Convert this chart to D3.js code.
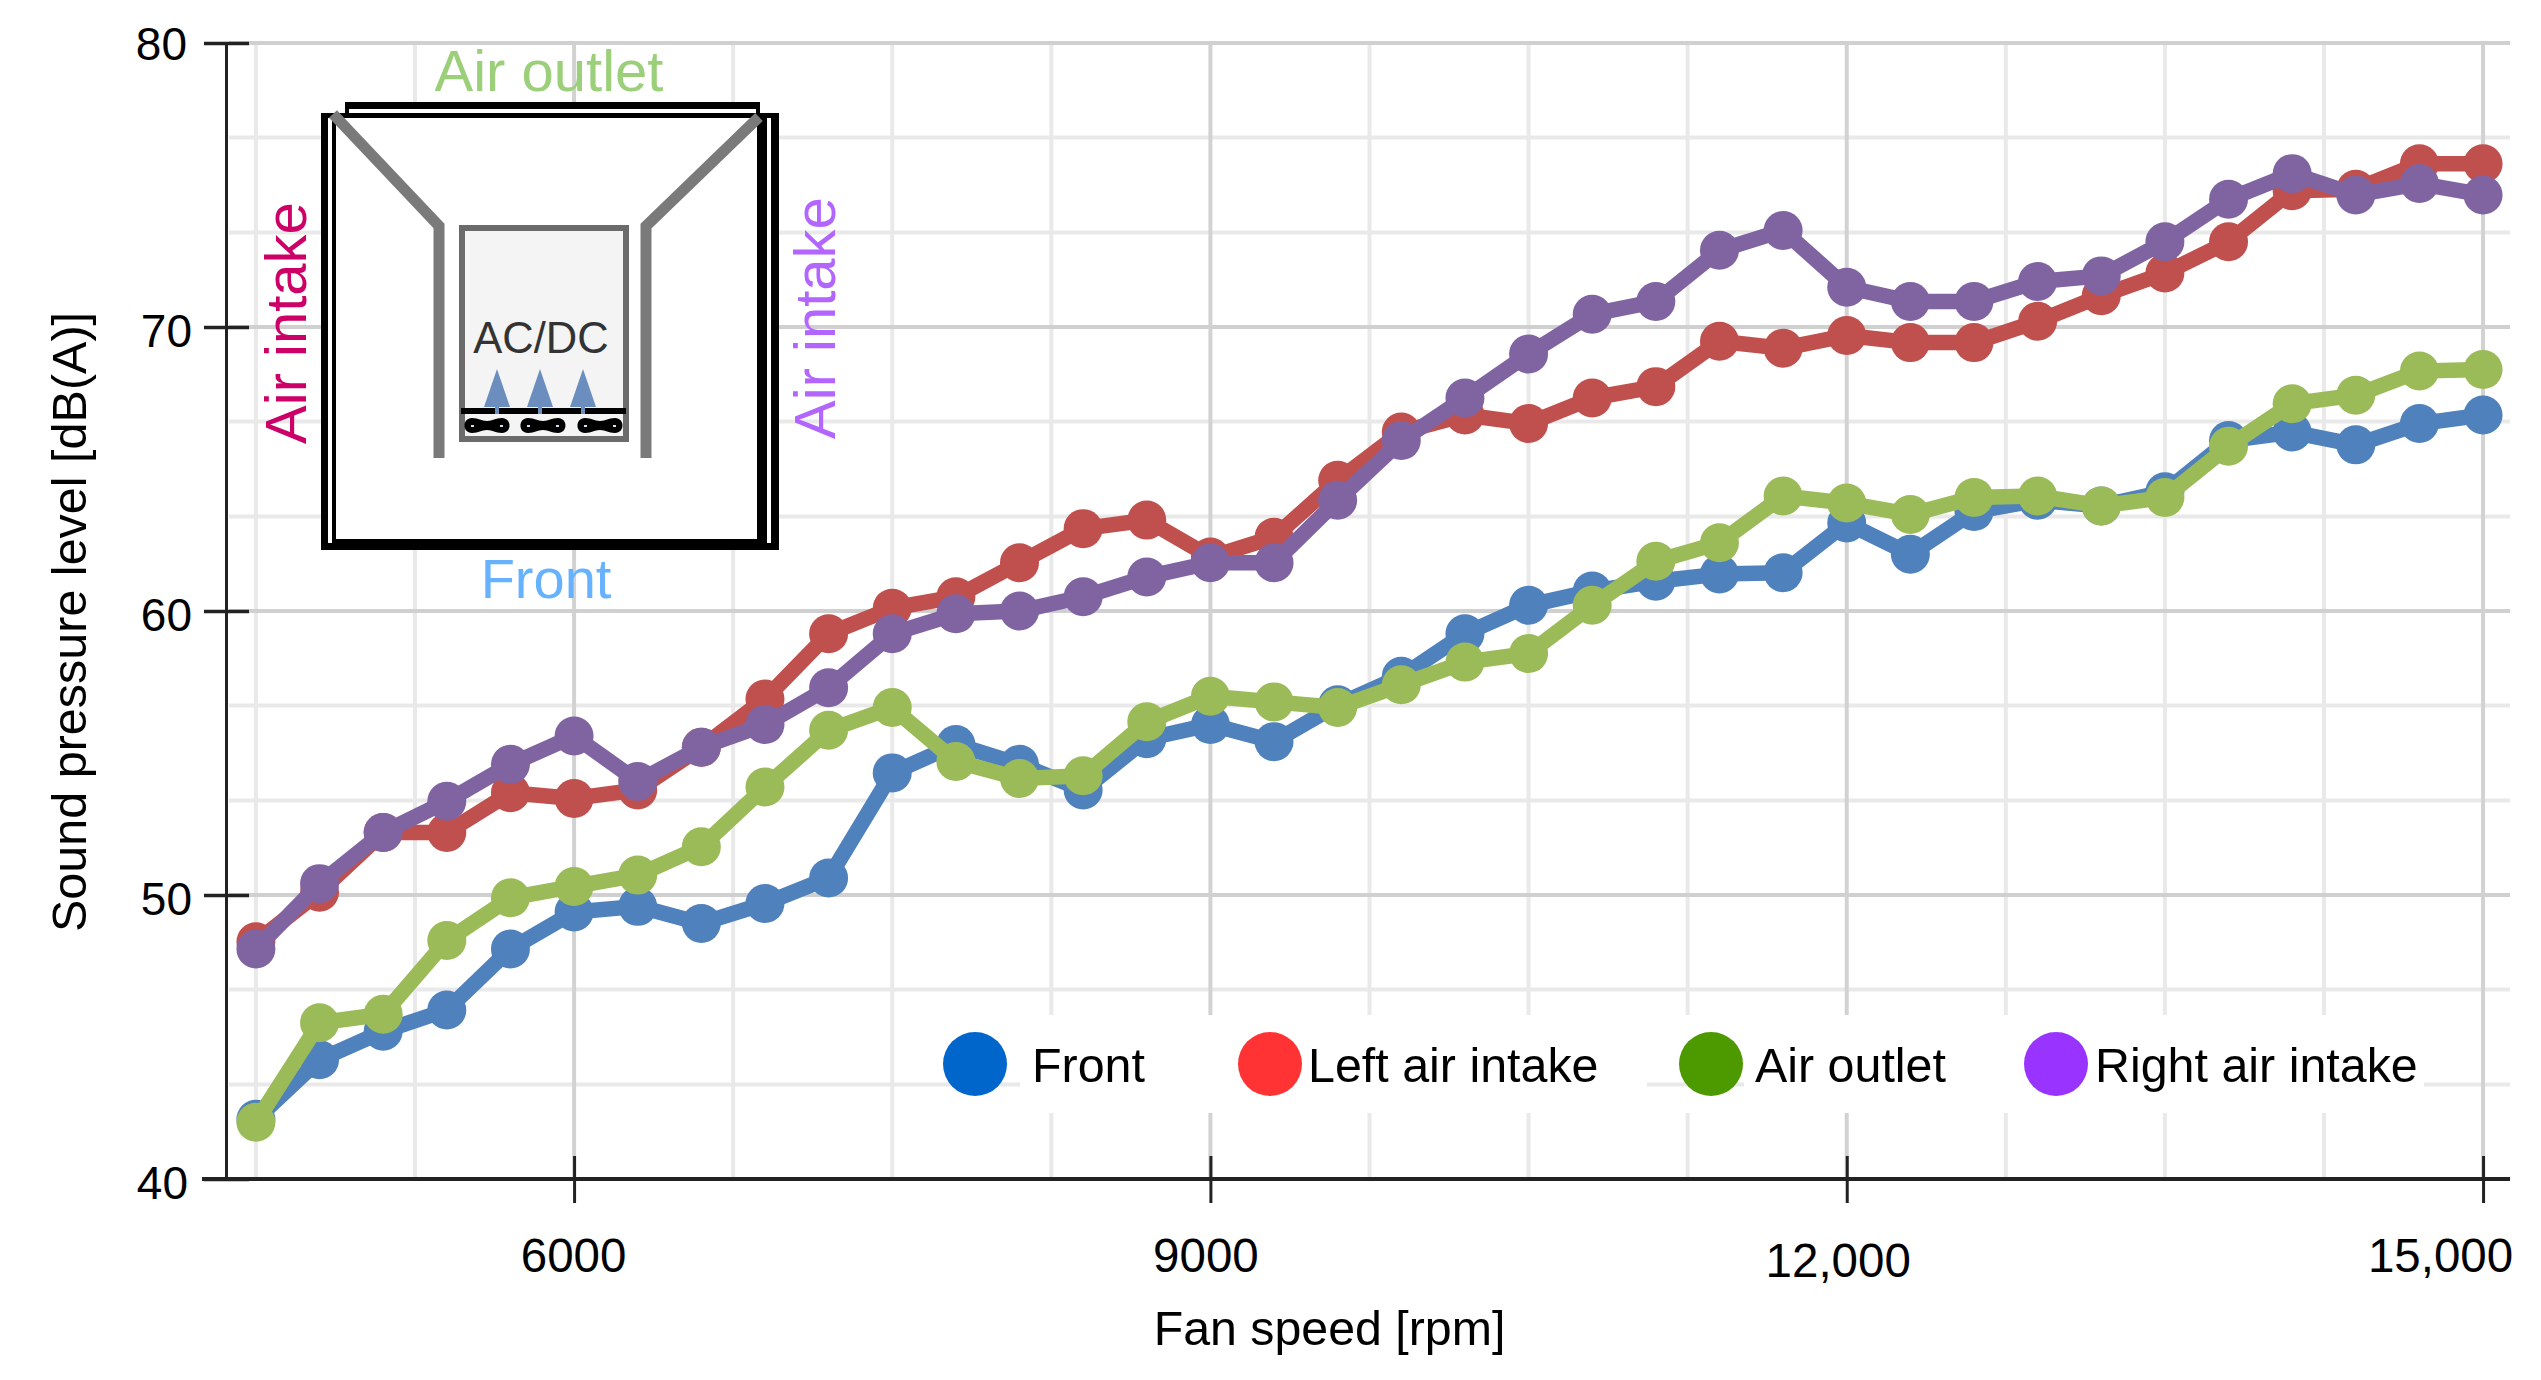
<!DOCTYPE html>
<html>
<head>
<meta charset="utf-8">
<script src="https://cdn.jsdelivr.net/npm/d3@7"></script>
<style>
  html, body { margin: 0; padding: 0; background: #fff; }
  text { font-family: "Liberation Sans", Arial, sans-serif; }
</style>
</head>
<body>
<div id="chart"></div>
<script>
var rpm = [4500, 4800, 5100, 5400, 5700, 6000, 6300, 6600, 6900, 7200, 7500, 7800,
           8100, 8400, 8700, 9000, 9300, 9600, 9900, 10200, 10500, 10800, 11100, 11400,
           11700, 12000, 12300, 12600, 12900, 13200, 13500, 13800, 14100, 14400, 14700, 15000];

var front = [42.1, 44.2, 45.2, 45.95, 48.1, 49.4, 49.6, 49.0, 49.7, 50.6, 54.3, 55.3,
             54.6, 53.7, 55.5, 56.0, 55.4, 56.7, 57.7, 59.2, 60.2, 60.7, 61.05, 61.3,
             61.35, 63.1, 62.0, 63.5, 63.9, 63.7, 64.2, 66.0, 66.3, 65.85, 66.6, 66.9];
var leftIntake = [48.35, 50.1, 52.2, 52.2, 53.6, 53.4, 53.7, 55.2, 56.9, 59.2, 60.1, 60.5,
                  61.7, 62.9, 63.2, 61.9, 62.6, 64.6, 66.3, 66.9, 66.6, 67.5, 67.9, 69.5,
                  69.25, 69.7, 69.45, 69.45, 70.2, 71.1, 71.9, 73.0, 74.8, 74.85, 75.75, 75.75];
var airOutlet = [42.0, 45.5, 45.8, 48.4, 49.9, 50.3, 50.7, 51.7, 53.8, 55.8, 56.6, 54.7,
                 54.1, 54.2, 56.1, 57.0, 56.8, 56.6, 57.4, 58.2, 58.5, 60.2, 61.75, 62.4,
                 64.05, 63.8, 63.4, 64.0, 64.05, 63.7, 64.0, 65.8, 67.3, 67.6, 68.45, 68.5];
var rightIntake = [48.1, 50.4, 52.2, 53.3, 54.6, 55.6, 54.0, 55.2, 56.0, 57.3, 59.2, 59.9,
                   60.0, 60.5, 61.2, 61.7, 61.7, 63.9, 66.0, 67.5, 69.05, 70.45, 70.9, 72.7,
                   73.4, 71.4, 70.9, 70.9, 71.6, 71.8, 73.0, 74.5, 75.4, 74.65, 75.05, 74.65];

var seriesNames = ["Front", "Left air intake", "Air outlet", "Right air intake"];
var seriesValues = [front, leftIntake, airOutlet, rightIntake];
var lineColors = ["#4f81bd", "#c0504d", "#9bbb59", "#8064a2"];
var legendColors = ["#0066cc", "#ff3333", "#4d9900", "#9933ff"];

var yTicks = [40, 50, 60, 70, 80];
var yMinor = [43.33, 46.67, 53.33, 56.67, 63.33, 66.67, 73.33, 76.67];
var xTicks = [6000, 9000, 12000, 15000];
var xTickLabels = ["6000", "9000", "12,000", "15,000"];
var xMinor = [4500, 5250, 6750, 7500, 8250, 9750, 10500, 11250, 12750, 13500, 14250];

var svg = d3.select("#chart").append("svg")
  .attr("width", 2541)
  .attr("height", 1380)
  .style("display", "block");

var x = d3.scaleLinear().domain([4359, 15127]).range([226, 2510]);
var y = d3.scaleLinear().domain([40, 80]).range([1179, 43]);

// grid
var grid = svg.append("g");
grid.selectAll(".minor-v").data(xMinor).enter().append("line")
  .attr("x1", d => x(d)).attr("x2", d => x(d))
  .attr("y1", y(80)).attr("y2", y(40))
  .attr("stroke", "#e9e9e9").attr("stroke-width", 4);
grid.selectAll(".minor-h").data(yMinor).enter().append("line")
  .attr("x1", 229).attr("x2", 2510)
  .attr("y1", d => y(d)).attr("y2", d => y(d))
  .attr("stroke", "#e9e9e9").attr("stroke-width", 4);
grid.selectAll(".major-v").data(xTicks).enter().append("line")
  .attr("x1", d => x(d)).attr("x2", d => x(d))
  .attr("y1", y(80)).attr("y2", y(40))
  .attr("stroke", "#d2d2d2").attr("stroke-width", 4);
grid.selectAll(".major-h").data(yTicks.slice(1)).enter().append("line")
  .attr("x1", 229).attr("x2", 2510)
  .attr("y1", d => y(d)).attr("y2", d => y(d))
  .attr("stroke", "#d0d0d0").attr("stroke-width", 4);

// the legend sits on a white patch, a bit of grid shows through between entries
svg.append("rect").attr("x", 1020).attr("y", 1015).attr("width", 1404).attr("height", 98).attr("fill", "#fff");
svg.append("line")
  .attr("x1", 1647).attr("x2", 1744)
  .attr("y1", y(43.33)).attr("y2", y(43.33))
  .attr("stroke", "#e9e9e9").attr("stroke-width", 4);

// axes - the labels in the original were placed by hand, hence the nudges
var yLabelDx = [-4, 0, 0, 0, -5];
var yLabelDy = [0, 0, 0, 0, -3];
var yAxis = svg.append("g")
  .attr("transform", "translate(226,0)")
  .call(d3.axisLeft(y).tickValues(yTicks).tickSizeOuter(0));
yAxis.select(".domain").attr("stroke", "#222").attr("stroke-width", 3);
yAxis.selectAll(".tick line")
  .attr("x1", -22).attr("x2", 23)
  .attr("stroke", "#222").attr("stroke-width", 3.5);
yAxis.selectAll(".tick text")
  .attr("x", (d, i) => -34 + yLabelDx[i])
  .attr("y", (d, i) => yLabelDy[i])
  .attr("dy", "0.42em")
  .style("font-size", "46px").style("font-family", '"Liberation Sans"').attr("fill", "#000");

var xLabelDx = [-1, -5, -9, -43];
var xLabelDy = [1, 1, 6, 1];
var xAxis = svg.append("g")
  .attr("transform", "translate(0,1179)")
  .call(d3.axisBottom(x).tickValues(xTicks).tickSizeOuter(0)
    .tickFormat((d, i) => xTickLabels[i]));
xAxis.select(".domain").attr("stroke", "#222").attr("stroke-width", 4)
  .attr("d", "M202,0H2510");
xAxis.selectAll(".tick line")
  .attr("y1", -23).attr("y2", 24)
  .attr("stroke", "#222").attr("stroke-width", 3);
xAxis.selectAll(".tick text")
  .attr("x", (d, i) => xLabelDx[i])
  .attr("y", (d, i) => 75 + xLabelDy[i])
  .attr("dy", "0.35em")
  .style("font-size", "47.5px").style("font-family", '"Liberation Sans"').attr("fill", "#000");

// axis titles
svg.append("text")
  .attr("transform", "translate(86,622) rotate(-90)")
  .attr("text-anchor", "middle")
  .attr("font-size", 48.5)
  .text("Sound pressure level [dB(A)]");
svg.append("text")
  .attr("x", 1329.5).attr("y", 1345)
  .attr("text-anchor", "middle")
  .attr("font-size", 48.3)
  .text("Fan speed [rpm]");

// series
var line = d3.line().x((d, i) => x(rpm[i])).y(d => y(d));
seriesValues.forEach((vals, s) => {
  svg.append("path")
    .attr("d", line(vals))
    .attr("fill", "none")
    .attr("stroke", lineColors[s])
    .attr("stroke-width", 15.5)
    .attr("stroke-linejoin", "round");
  svg.append("g").selectAll("circle").data(vals).enter().append("circle")
    .attr("cx", (d, i) => x(rpm[i]))
    .attr("cy", d => y(d))
    .attr("r", 19.5)
    .attr("fill", lineColors[s]);
});

// legend
var legendDotX = [975, 1270, 1711, 2056];
var legendTextX = [1032, 1308, 1755, 2095];
seriesNames.forEach((name, s) => {
  svg.append("circle")
    .attr("cx", legendDotX[s]).attr("cy", 1064).attr("r", 32)
    .attr("fill", legendColors[s]);
  svg.append("text")
    .attr("x", legendTextX[s]).attr("y", 1082)
    .attr("font-size", 48.4)
    .text(name);
});

// inset sketch of the enclosure
function drawInset() {
  var g = svg.append("g");
  function box(x0, y0, x1, y1, fill) {
    g.append("rect").attr("x", x0).attr("y", y0)
      .attr("width", x1 - x0).attr("height", y1 - y0).attr("fill", fill);
  }
  box(321, 113, 779, 550, "#000");
  box(328, 118, 771, 543, "#fff");
  box(332, 113, 767, 550, "#000");
  box(336, 118, 757, 539, "#fff");
  box(345, 102, 760, 118, "#000");
  box(349, 109, 756, 113, "#fff");

  g.append("path").attr("d", "M333,114L439,226V458")
    .attr("fill", "none").attr("stroke", "#7a7a7a").attr("stroke-width", 11);
  g.append("path").attr("d", "M759,117L646,226V458")
    .attr("fill", "none").attr("stroke", "#7a7a7a").attr("stroke-width", 11);

  g.append("rect").attr("x", 462).attr("y", 228).attr("width", 164).attr("height", 211)
    .attr("fill", "#f4f4f4").attr("stroke", "#6b6b6b").attr("stroke-width", 6);
  box(461, 408, 626, 414, "#000");

  g.append("text").attr("x", 541).attr("y", 353).attr("text-anchor", "middle")
    .attr("font-size", 43.5).attr("fill", "#333").text("AC/DC");

  [497, 540, 583].forEach(cx => {
    g.append("path").attr("d", `M${cx},369L${cx - 13},407H${cx + 13}Z`).attr("fill", "#6c8ebf");
    box(cx - 2, 407, cx + 2, 414, "#6c8ebf");
  });
  [487, 543, 600].forEach(cx => {
    g.append("path")
      .attr("d", `M${cx - 15},418C${cx - 8},418 ${cx - 6},421 ${cx},421C${cx + 6},421 ${cx + 8},418 ${cx + 15},418C${cx + 25},418 ${cx + 25},433 ${cx + 15},433C${cx + 8},433 ${cx + 6},430 ${cx},430C${cx - 6},430 ${cx - 8},433 ${cx - 15},433C${cx - 25},433 ${cx - 25},418 ${cx - 15},418Z`)
      .attr("fill", "#000");
    box(cx - 16, 425, cx - 13, 427, "#cfe0f5");
    box(cx + 13, 425, cx + 16, 427, "#cfe0f5");
  });

  g.append("text").attr("x", 549).attr("y", 91).attr("text-anchor", "middle")
    .attr("font-size", 58).attr("fill", "#9ccf7a").text("Air outlet");
  g.append("text").attr("x", 546).attr("y", 598).attr("text-anchor", "middle")
    .attr("font-size", 56).attr("fill", "#66b2ff").text("Front");
  g.append("text").attr("transform", "translate(306,323) rotate(-90)").attr("text-anchor", "middle")
    .attr("font-size", 58).attr("fill", "#cc0066").text("Air intake");
  g.append("text").attr("transform", "translate(835,318) rotate(-90)").attr("text-anchor", "middle")
    .attr("font-size", 58).attr("fill", "#b266ff").text("Air intake");
}
drawInset();
</script>
</body>
</html>
